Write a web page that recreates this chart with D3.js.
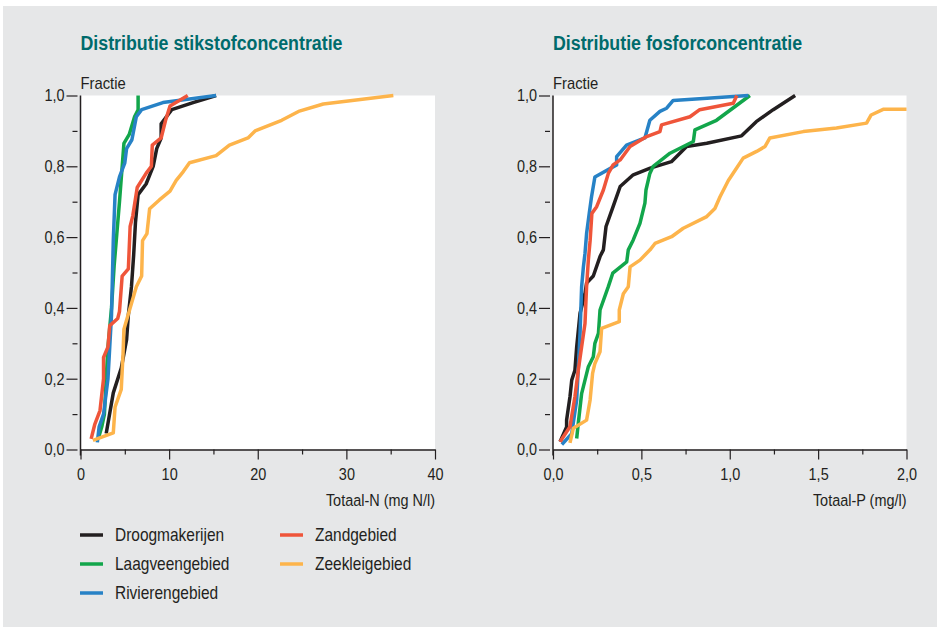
<!DOCTYPE html>
<meta charset="utf-8">
<style>

body {
  margin: 0;
  background: #fff;
}

text {
  font-family: "Liberation Sans", Arial, sans-serif;
  fill: #231f20;
}

.line {
  fill: none;
  stroke-width: 3.5px;
  stroke-linejoin: round;
  stroke-linecap: butt;
}

</style>
<svg></svg>
<script src="https://cdn.jsdelivr.net/npm/d3@7"></script>
<script>

var width = 937,
    height = 627;

var series = ["Droogmakerijen", "Laagveengebied", "Rivierengebied", "Zandgebied", "Zeekleigebied"];
var colors = ["#231f20", "#12a64b", "#2782c6", "#ef553a", "#fdb44b"];

// Totaal-N [value, fractie]
var nDroog = [[2.9,0.045],[3.7,0.16],[4.6,0.23],[5.2,0.31],[5.4,0.38],[5.75,0.46],[6.0,0.55],[6.2,0.64],[6.5,0.72],[7.4,0.75],[8.2,0.80],[8.6,0.85],[9.1,0.88],[9.1,0.92],[10.3,0.96],[12.7,0.98],[15.3,1.0]];
var nLaagveen = [[2.0,0.03],[2.4,0.064],[2.7,0.10],[2.9,0.2],[3.1,0.29],[3.5,0.40],[3.8,0.52],[4.1,0.61],[4.4,0.70],[4.9,0.865],[5.5,0.89],[6.1,0.94],[6.5,0.96],[6.5,1.0]];
var nRivier = [[1.9,0.02],[2.1,0.064],[2.6,0.10],[3.1,0.2],[3.3,0.29],[3.5,0.38],[3.7,0.59],[3.9,0.72],[4.4,0.77],[5.0,0.81],[5.2,0.85],[5.8,0.875],[6.3,0.94],[6.9,0.96],[9.3,0.98],[15.3,1.0]];
var nZand = [[1.2,0.03],[1.6,0.07],[2.2,0.11],[2.6,0.2],[2.6,0.26],[3.1,0.29],[3.3,0.35],[4.2,0.37],[4.4,0.39],[4.7,0.49],[5.4,0.51],[5.6,0.63],[5.9,0.66],[6.4,0.74],[7.4,0.78],[8.0,0.80],[8.1,0.86],[9.1,0.88],[9.6,0.93],[10.1,0.97],[12.1,1.0]];
var nZeeklei = [[1.4,0.026],[3.7,0.047],[3.9,0.12],[4.6,0.17],[4.8,0.27],[4.9,0.34],[5.6,0.40],[6.3,0.46],[6.9,0.49],[7.0,0.59],[7.5,0.61],[7.8,0.68],[8.9,0.705],[10.1,0.73],[10.8,0.76],[11.6,0.785],[12.3,0.81],[15.3,0.83],[16.8,0.86],[18.9,0.88],[19.7,0.90],[22.7,0.93],[24.6,0.955],[27.4,0.976],[35.3,1.0]];

// Totaal-P [value, fractie]
var pDroog = [[0.04,0.022],[0.077,0.064],[0.077,0.083],[0.096,0.149],[0.106,0.196],[0.124,0.224],[0.134,0.29],[0.153,0.385],[0.181,0.44],[0.19,0.47],[0.228,0.49],[0.266,0.545],[0.285,0.564],[0.30,0.63],[0.34,0.686],[0.38,0.743],[0.454,0.776],[0.55,0.795],[0.67,0.813],[0.756,0.856],[0.87,0.865],[1.067,0.886],[1.15,0.926],[1.246,0.96],[1.37,1.0]];
var pLaagveen = [[0.134,0.031],[0.143,0.074],[0.162,0.158],[0.20,0.234],[0.228,0.262],[0.237,0.30],[0.257,0.328],[0.266,0.394],[0.313,0.46],[0.338,0.498],[0.417,0.53],[0.426,0.564],[0.454,0.592],[0.492,0.639],[0.52,0.696],[0.526,0.733],[0.548,0.78],[0.567,0.80],[0.662,0.837],[0.794,0.87],[0.803,0.903],[0.925,0.93],[1.114,1.0]];
var pRivier = [[0.05,0.014],[0.106,0.045],[0.134,0.14],[0.153,0.328],[0.162,0.46],[0.172,0.516],[0.181,0.554],[0.19,0.61],[0.205,0.667],[0.218,0.714],[0.237,0.77],[0.36,0.804],[0.36,0.827],[0.416,0.86],[0.52,0.88],[0.548,0.93],[0.605,0.955],[0.643,0.964],[0.68,0.986],[1.105,1.0]];
var pZand = [[0.04,0.022],[0.096,0.064],[0.124,0.149],[0.143,0.224],[0.162,0.29],[0.181,0.356],[0.19,0.46],[0.20,0.535],[0.21,0.59],[0.22,0.667],[0.247,0.686],[0.285,0.733],[0.313,0.78],[0.34,0.804],[0.38,0.818],[0.436,0.856],[0.53,0.884],[0.605,0.898],[0.614,0.917],[0.775,0.94],[0.83,0.96],[1.02,0.978],[1.04,1.0]];
var pZeeklei = [[0.096,0.019],[0.115,0.06],[0.19,0.083],[0.21,0.14],[0.224,0.215],[0.237,0.243],[0.266,0.276],[0.275,0.342],[0.375,0.361],[0.375,0.394],[0.398,0.44],[0.426,0.46],[0.436,0.516],[0.492,0.535],[0.549,0.564],[0.577,0.582],[0.671,0.601],[0.737,0.625],[0.87,0.658],[0.916,0.681],[0.945,0.714],[0.992,0.76],[1.039,0.795],[1.076,0.823],[1.152,0.842],[1.2,0.856],[1.227,0.88],[1.416,0.898],[1.604,0.908],[1.774,0.922],[1.80,0.945],[1.868,0.961],[2.0,0.961]];

var yMajor = [0, 0.2, 0.4, 0.6, 0.8, 1.0],
    yMinor = [0.1, 0.3, 0.5, 0.7, 0.9];
var nMajor = [0, 10, 20, 30, 40],
    nMinor = [5, 15, 25, 35];
var pMajor = [0, 0.5, 1.0, 1.5, 2.0],
    pMinor = [0.25, 0.75, 1.25, 1.75];

var comma = function(d) { return d3.format(".1f")(d).replace(".", ","); };

var svg = d3.select("svg")
    .attr("width", width)
    .attr("height", height);

svg.append("rect")
    .attr("x", 3).attr("y", 6)
    .attr("width", width - 3).attr("height", height - 6)
    .attr("fill", "#e6e7e8");

// the original uses a condensed face; squeeze a regular one instead
function label(sel, x, y, txt, size, sx) {
  return sel.append("text")
      .attr("transform", "translate(" + x + "," + y + ") scale(" + sx + ",1)")
      .style("font-size", size + "px")
      .text(txt);
}

function squeeze(axis, sx) {
  axis.selectAll("text").each(function() {
    var t = d3.select(this),
        x = +t.attr("x") || 0,
        y = +t.attr("y") || 0;
    t.attr("x", 0).attr("y", 0)
        .attr("transform", "translate(" + x + "," + y + ") scale(" + sx + ",1)")
        .style("font-size", "17px").style("fill", "#231f20");
  });
}

function panel(opt) {
  var x = d3.scaleLinear().domain(opt.domain).range([opt.left, opt.right]),
      y = d3.scaleLinear().domain([0, 1]).range([449.5, 95.5]);

  var g = svg.append("g");

  label(g, opt.left, 49.5, opt.title, 20, 0.89)
      .style("font-weight", "bold")
      .style("fill", "#006b6c");

  label(g, opt.left, 89, "Fractie", 17, 0.87);

  g.append("rect")
      .attr("x", opt.left).attr("y", y(1))
      .attr("width", opt.right - opt.left).attr("height", y(0) - y(1))
      .attr("fill", "#fff");

  var line = d3.line()
      .x(function(d) { return x(d[0]); })
      .y(function(d) { return y(d[1]); });

  g.selectAll(".line")
      .data(opt.data)
    .enter().append("path")
      .attr("class", "line")
      .attr("stroke", function(d, i) { return colors[i]; })
      .attr("d", line);

  // y axis: ticks sit a little off the axis line
  var ya = g.append("g")
      .attr("transform", "translate(" + (opt.left - 3) + ",0)")
      .call(d3.axisLeft(y).tickValues(yMajor).tickSize(11).tickPadding(2).tickFormat(comma));
  var ym = g.append("g")
      .attr("transform", "translate(" + (opt.left - 3) + ",0)")
      .call(d3.axisLeft(y).tickValues(yMinor).tickSize(5).tickFormat(""));
  g.append("line")
      .attr("x1", opt.left).attr("x2", opt.left)
      .attr("y1", y(1)).attr("y2", y(0) + 6)
      .attr("stroke", "#231f20").attr("stroke-width", 1.5);

  var xa = g.append("g")
      .attr("transform", "translate(0," + y(0) + ")")
      .call(d3.axisBottom(x).tickValues(opt.major).tickSize(10).tickPadding(8).tickSizeOuter(0).tickFormat(opt.fmt));
  var xm = g.append("g")
      .attr("transform", "translate(0," + y(0) + ")")
      .call(d3.axisBottom(x).tickValues(opt.minor).tickSize(5).tickFormat(""));

  [ya, ym, xm].forEach(function(a) { a.select(".domain").remove(); });
  xa.select(".domain").attr("stroke-width", 1.5).attr("stroke", "#231f20");
  [ya, ym, xa, xm].forEach(function(a) {
    a.attr("font-family", null).attr("font-size", null);
    a.selectAll("line").attr("stroke", "#231f20").attr("stroke-width", 1.2);
  });
  squeeze(ya, 0.85);
  squeeze(xa, 0.85);

  label(g, opt.right, 506, opt.xlabel, 17, 0.85)
      .attr("text-anchor", "end");
}

panel({
  title: "Distributie stikstofconcentratie",
  xlabel: "Totaal-N (mg N/l)",
  domain: [0, 40], left: 80.5, right: 435,
  major: nMajor, minor: nMinor, fmt: d3.format("d"),
  data: [nDroog, nLaagveen, nRivier, nZand, nZeeklei]
});

panel({
  title: "Distributie fosforconcentratie",
  xlabel: "Totaal-P (mg/l)",
  domain: [0, 2], left: 553, right: 906.5,
  major: pMajor, minor: pMinor, fmt: comma,
  data: [pDroog, pLaagveen, pRivier, pZand, pZeeklei]
});

// legend
var legend = svg.append("g")
    .selectAll("g")
    .data(series)
  .enter().append("g")
    .attr("transform", function(d, i) {
      return "translate(" + (i < 3 ? 80 : 280) + "," + (535 + (i % 3) * 29) + ")";
    });

legend.append("line")
    .attr("x1", 0).attr("x2", 23)
    .attr("stroke", function(d, i) { return colors[i]; })
    .attr("stroke-width", 3.5);

legend.append("text")
    .attr("transform", "translate(35,0) scale(0.86,1)")
    .attr("dy", "0.35em")
    .style("font-size", "18px")
    .text(function(d) { return d; });

</script>
